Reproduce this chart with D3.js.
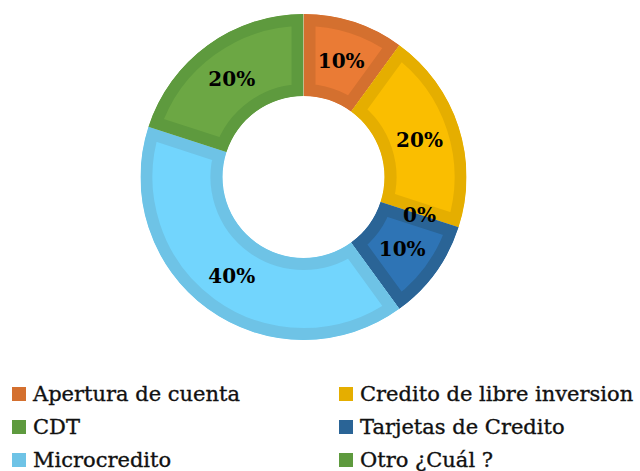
<!DOCTYPE html>
<html>
<head>
<meta charset="utf-8">
<script src="https://cdn.jsdelivr.net/npm/d3@7"></script>
<style>
  body { margin: 0; background: #fff; }
  text { font-family: "DejaVu Serif", serif; }
</style>
</head>
<body>
<div id="main"></div>
<script>
const categories = [
  "Apertura de cuenta",
  "Credito de libre inversion",
  "CDT",
  "Tarjetas de Credito",
  "Microcredito",
  "Otro ¿Cuál ?"
];
const values = [10, 20, 0, 10, 40, 20];
const borderColors = ["#d4702f", "#e5ae00", "#5e9a3e", "#2a6496", "#6ec3e6", "#5e9a3e"];
const fillColors = ["#ea7b35", "#fabe00", "#6ca744", "#2e74b5", "#72d5fd", "#6ca744"];

const width = 640;
const height = 471;
const cx = 303.5;
const cy = 177;
const outerR = 163;
const innerR = 81;

const svg = d3.select("#main")
  .append("svg")
  .attr("width", width)
  .attr("height", height);

const pie = d3.pie().sort(null).value((d) => d.value);
const arc = d3.arc().innerRadius(innerR).outerRadius(outerR);

const data = pie(categories.map((c, i) => ({ name: c, value: values[i], i })));

const defs = svg.append("defs");
defs.selectAll("clipPath")
  .data(data)
  .enter()
  .append("clipPath")
  .attr("id", (d) => "clip" + d.data.i)
  .append("path")
  .attr("d", arc);

const g = svg.append("g").attr("transform", `translate(${cx},${cy})`);

g.selectAll("path.slice")
  .data(data)
  .enter()
  .append("path")
  .attr("class", "slice")
  .attr("d", arc)
  .attr("fill", (d) => fillColors[d.data.i])
  .attr("stroke", (d) => borderColors[d.data.i])
  .attr("stroke-width", 24)
  .attr("stroke-linejoin", "miter")
  .attr("clip-path", (d) => `url(#clip${d.data.i})`);

g.selectAll("text.label")
  .data(data)
  .enter()
  .append("text")
  .attr("class", "label")
  .attr("transform", (d) => `translate(${arc.centroid(d)})`)
  .attr("text-anchor", "middle")
  .attr("dy", "0.36em")
  .attr("font-size", 20)
  .attr("font-weight", "bold")
  .attr("fill", "#000")
  .text((d) => d.data.value + "%");

// legend
const col = d3.scaleOrdinal().domain([0, 1]).range([12, 339]);
const row = d3.scaleLinear().domain([0, 2]).range([394, 460]);

const legend = svg.append("g").attr("id", "legend");
const items = legend.selectAll("g")
  .data(categories)
  .enter()
  .append("g")
  .attr("transform", (d, i) => `translate(${col(i % 2)},${row(Math.floor(i / 2))})`);

items.append("rect")
  .attr("x", 0)
  .attr("y", -7)
  .attr("width", 14)
  .attr("height", 14)
  .attr("fill", (d, i) => borderColors[i]);

items.append("text")
  .attr("x", 21)
  .attr("y", 0)
  .attr("dy", "0.35em")
  .attr("font-size", 21)
  .attr("fill", "#111")
  .attr("stroke", "#111")
  .attr("stroke-width", 0.35)
  .text((d) => d);
</script>
</body>
</html>
